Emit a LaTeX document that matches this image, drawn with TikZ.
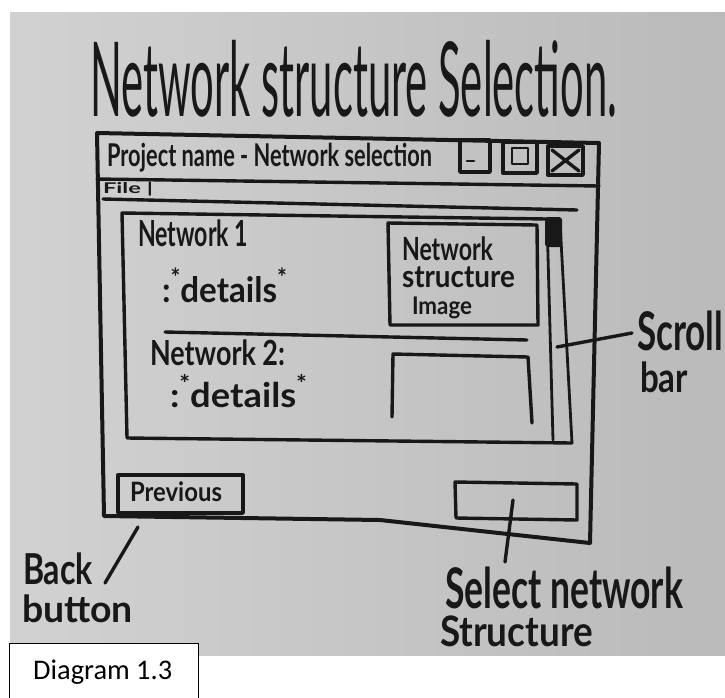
\documentclass[tikz,border=0pt]{standalone}
\usepackage{graphicx}
\usepackage{fontspec}
\setmainfont{Carlito}
\newfontfamily\marker{Lato}
% fit a piece of handwriting into a box of given width and total height
\newcommand\inkfit[3]{\resizebox*{#1}{#2}{\marker #3}}
\newcommand\starup{\raisebox{0.9ex}{\scriptsize *}}
\definecolor{board}{RGB}{198,198,198}
\definecolor{boarddark}{RGB}{186,186,186}
\definecolor{ink}{RGB}{24,24,24}
\tikzset{
  frame/.style={draw=ink, line width=4pt, line join=round, line cap=round},
  stroke/.style={draw=ink, line width=3.4pt, line join=round, line cap=round},
  thin stroke/.style={draw=ink, line width=2.8pt, line join=round, line cap=round},
  hand/.style={inner sep=0pt, outer sep=0pt, anchor=north west, text=ink},
}
\begin{document}
\begin{tikzpicture}[x=1pt, y=-1pt]
\useasboundingbox (0,0) rectangle (725,697);
\fill[white] (0,0) rectangle (725,697);
% whiteboard
\shade[left color=board!80!white, right color=boarddark] (10,12) rectangle (725,655);

% heading
\node[hand] (title) at (90,40) {\inkfit{527pt}{77pt}{Network structure Selection.}};

% ---- window ----
\coordinate (wTL) at (97,133);
\coordinate (wTR) at (599,143);
\coordinate (wBR) at (590,543);
\coordinate (wBM) at (380,520);
\coordinate (wBL) at (104,516);
\draw[frame] (wTL) -- (wTR) -- (wBR) -- (wBM) -- (wBL) -- cycle;
% title bar
\draw[stroke] (97,179) -- (599,186);
\node[hand] (wtitle) at (107,143) {\inkfit{325pt}{29pt}{\bfseries Project name - Network selection}};
% window buttons
\draw[stroke] (460,140) rectangle (490,172);
\draw[thin stroke] (467,161) -- (474,161);
\draw[stroke] (503,142) rectangle (537,173);
\draw[thin stroke] (512,148) rectangle (528,164);
\draw[stroke] (548,146) rectangle (583,175);
\draw[stroke] (552,150) -- (579,171) (552,171) -- (579,150);
% menu bar
\node[hand] (menu) at (103,182) {\inkfit{50pt}{14pt}{\bfseries File |}};
\draw[stroke] (103,199) -- (577,210);

% ---- list panel ----
\coordinate (pTL) at (122,213);
\coordinate (pTR) at (547,219);
\coordinate (pBL) at (127,438);
\coordinate (pBR) at (572,443);
\draw[stroke] (pTR) -- (pTL) -- (pBL) -- (pBR);
% scroll bar
\coordinate (sTL) at (547,219);
\coordinate (sTR) at (560,222);
\coordinate (sBL) at (553,440);
\coordinate (sBR) at (572,443);
\draw[thin stroke] (sTL) -- (sBL);
\draw[thin stroke] (sTR) -- (sBR);
\fill[ink, rounded corners=3pt] (545,217) rectangle (562,247);

% first entry
\node[hand] (net1) at (138,220) {\inkfit{110pt}{27pt}{\bfseries Network 1}};
\node[hand] (det1) at (162,268) {\inkfit{125pt}{35pt}{\bfseries :\starup details\starup}};
\draw[stroke] (388,223) -- (537,225) -- (538,325) -- (390,325) -- cycle;
\node[hand] (img1) at (402,237) {\inkfit{91pt}{24pt}{\bfseries Network}};
\node[hand] (img2) at (402,267) {\inkfit{113pt}{21pt}{\bfseries structure}};
\node[hand] (img3) at (412,297) {\inkfit{60pt}{22pt}{\bfseries Image}};
% divider
\draw[stroke] (165,332) -- (527,340);
% second entry
\node[hand] (net2) at (150,340) {\inkfit{135pt}{26pt}{\bfseries Network 2:}};
\node[hand] (det2) at (170,374) {\inkfit{137pt}{34pt}{\bfseries :\starup details\starup}};
\draw[stroke] (392,417) -- (393,354) -- (528,357) -- (532,423);

% bottom buttons
\draw[stroke] (118,475) rectangle (243,513);
\node[hand] (prev) at (130,482) {\inkfit{92pt}{20pt}{\bfseries Previous}};
\draw[stroke] (455,482) -- (577,484) -- (577,520) -- (456,518) -- cycle;

% ---- annotations ----
\node[hand] (scrl) at (637,311) {\inkfit{86pt}{40pt}{\bfseries Scroll}};
\node[hand] (bar) at (640,362) {\inkfit{48pt}{31pt}{\bfseries bar}};
\coordinate (sPin) at (557,347);
\draw[stroke] (sPin) -- (632,333);

\node[hand] (back) at (23,553) {\inkfit{70pt}{32pt}{\bfseries Back}};
\node[hand] (backb) at (22,595) {\inkfit{111pt}{28pt}{\bfseries button}};
\draw[stroke] (138,527) -- (105,583);

\node[hand] (sel1) at (445,567) {\inkfit{238pt}{42pt}{\bfseries Select network}};
\node[hand] (sel2) at (440,616) {\inkfit{153pt}{31pt}{\bfseries Structure}};
\draw[stroke] (513,500) -- (505,562);

% caption
\draw[fill=white, draw=black, line width=0.8pt] (9,643) rectangle (198,700);
\node[anchor=base west, inner sep=0pt] (cap) at (33,679) {\resizebox{139pt}{!}{Diagram 1.3}};
\end{tikzpicture}
\end{document}
